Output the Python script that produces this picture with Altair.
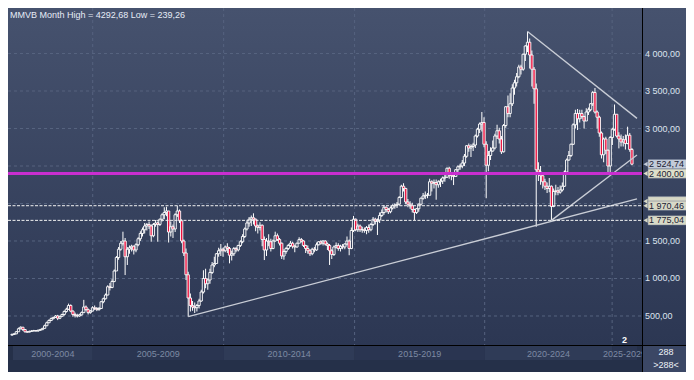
import altair as alt
import pandas as pd

TITLE = "MMVB Month High = 4292,68 Low = 239,26"
FIRST_OPEN = 245.0  # open of the first monthly candle (Jan 2002)

# Monthly closes, Jan 2002 .. Oct 2025 (one row per year)
CLOSE = [
    255, 262, 290, 330, 350, 320, 290, 285, 295, 300, 305, 300,
    310, 318, 335, 370, 410, 440, 465, 480, 500, 470, 495, 520,
    560, 590, 640, 565, 520, 505, 500, 515, 545, 620, 585, 545,
    565, 610, 600, 585, 600, 690, 730, 780, 890, 880, 960, 1100,
    1280, 1390, 1470, 1500, 1290, 1390, 1410, 1430, 1380, 1450, 1530, 1600,
    1650, 1700, 1720, 1700, 1570, 1720, 1740, 1720, 1790, 1850, 1880, 1900,
    1620, 1690, 1660, 1850, 1900, 1770, 1500, 1340, 1050, 740, 640, 620,
    610, 640, 700, 820, 1000, 930, 980, 1080, 1180, 1200, 1330, 1370,
    1390, 1370, 1420, 1400, 1310, 1330, 1400, 1380, 1440, 1490, 1560, 1660,
    1740, 1790, 1810, 1790, 1700, 1680, 1710, 1520, 1380, 1500, 1490, 1400,
    1500, 1570, 1520, 1470, 1300, 1360, 1400, 1440, 1470, 1430, 1420, 1470,
    1520, 1500, 1440, 1400, 1370, 1330, 1390, 1380, 1450, 1490, 1470, 1500,
    1460, 1440, 1370, 1320, 1420, 1440, 1400, 1430, 1420, 1460, 1500, 1400,
    1640, 1790, 1650, 1700, 1650, 1650, 1640, 1680, 1650, 1720, 1790, 1760,
    1780, 1840, 1880, 1950, 1920, 1890, 1940, 1970, 1980, 1990, 2080, 2230,
    2200, 2020, 1990, 1970, 1920, 1880, 1930, 1990, 2070, 2100, 2110, 2110,
    2290, 2270, 2280, 2250, 2290, 2300, 2340, 2350, 2470, 2380, 2370, 2360,
    2450, 2490, 2500, 2540, 2630, 2770, 2740, 2760, 2780, 2900, 2990, 3060,
    3080, 2790, 2510, 2640, 2700, 2740, 2900, 2970, 2860, 2690, 3040, 3290,
    3200, 3330, 3540, 3610, 3690, 3820, 3790, 3990, 4100, 4150, 3980, 3790,
    3530, 2450, 2420, 2370, 2290, 2230, 2200, 2230, 1960, 2160, 2170, 2150,
    2180, 2230, 2420, 2580, 2640, 2790, 3050, 3200, 3130, 3200, 3160, 3100,
    3220, 3250, 3330, 3480, 3220, 3150, 2940, 2650, 2860, 2710, 2500, 2880,
    2990, 3190, 2900, 2860, 2820, 2850, 2800, 2910, 2720, 2524.74,
]
HIGH = [
    265, 272, 300, 345, 362, 355, 325, 300, 305, 310, 315, 312,
    318, 328, 342, 385, 425, 455, 480, 490, 512, 515, 505, 530,
    575, 610, 665, 655, 575, 545, 530, 530, 560, 715, 640, 600,
    580, 630, 640, 620, 620, 700, 745, 800, 910, 940, 990, 1120,
    1300, 1420, 1500, 1624, 1540, 1420, 1440, 1450, 1440, 1470, 1550, 1630,
    1680, 1740, 1740, 1760, 1720, 1740, 1780, 1760, 1800, 1870, 1950, 1957,
    1900, 1760, 1720, 1870, 1970.46, 1920, 1790, 1520, 1400, 1090, 800, 700,
    680, 660, 730, 850, 1110, 1130, 1000, 1130, 1220, 1290, 1340, 1410,
    1460, 1410, 1440, 1470, 1420, 1370, 1420, 1420, 1450, 1510, 1590, 1680,
    1770, 1820, 1840, 1869, 1800, 1720, 1750, 1720, 1560, 1540, 1590, 1530,
    1520, 1624, 1600, 1540, 1480, 1390, 1420, 1460, 1500, 1490, 1450, 1480,
    1550, 1540, 1510, 1450, 1440, 1390, 1410, 1420, 1480, 1500, 1510, 1510,
    1510, 1480, 1460, 1390, 1440, 1480, 1470, 1450, 1460, 1470, 1560, 1520,
    1680, 1834, 1800, 1730, 1720, 1690, 1680, 1700, 1720, 1740, 1820, 1810,
    1800, 1880, 1920, 1980, 1960, 1940, 1960, 1990, 2000, 2020, 2100, 2250,
    2270, 2210, 2060, 2030, 2010, 1930, 1940, 2000, 2080, 2140, 2160, 2140,
    2330, 2310, 2320, 2320, 2310, 2330, 2360, 2380, 2480, 2490, 2420, 2410,
    2460, 2510, 2530, 2580, 2660, 2780, 2800, 2790, 2810, 2920, 3010, 3080,
    3220, 3150, 2830, 2700, 2750, 2840, 2930, 3050, 3010, 2900, 3060, 3300,
    3440, 3470, 3590, 3650, 3740, 3850, 3850, 4000, 4110, 4292.68, 4200, 4040,
    3820, 3600, 2550, 2500, 2400, 2330, 2280, 2340, 2240, 2200, 2250, 2220,
    2240, 2280, 2440, 2600, 2700, 2800, 3070, 3250, 3260, 3250, 3250, 3170,
    3270, 3280, 3340, 3500, 3540, 3240, 3170, 2960, 2880, 2890, 2720, 2900,
    3010, 3320, 3180, 2950, 2920, 2900, 2920, 3024, 2940, 2740,
]
LOW = [
    239.26, 248, 258, 288, 322, 300, 278, 276, 282, 290, 296, 292,
    292, 302, 312, 330, 365, 405, 432, 455, 475, 445, 458, 490,
    505, 545, 580, 550, 490, 480, 480, 490, 505, 540, 570, 520,
    530, 560, 580, 565, 570, 595, 670, 720, 775, 840, 870, 950,
    1100, 1250, 1370, 1440, 1046, 1180, 1330, 1360, 1320, 1350, 1430, 1500,
    1560, 1600, 1640, 1660, 1490, 1550, 1690, 1490, 1700, 1760, 1790, 1830,
    1480, 1560, 1540, 1620, 1820, 1740, 1470, 1300, 980, 491, 560, 570,
    540, 560, 600, 690, 800, 870, 850, 930, 1060, 1150, 1200, 1290,
    1300, 1290, 1350, 1340, 1202, 1240, 1300, 1350, 1360, 1420, 1470, 1540,
    1640, 1690, 1700, 1720, 1630, 1600, 1640, 1430, 1246, 1300, 1430, 1360,
    1390, 1490, 1500, 1440, 1260, 1250, 1330, 1380, 1420, 1400, 1350, 1410,
    1470, 1480, 1420, 1340, 1330, 1300, 1310, 1350, 1370, 1440, 1450, 1440,
    1440, 1380, 1180, 1260, 1300, 1400, 1370, 1360, 1390, 1390, 1440, 1310,
    1390, 1620, 1630, 1620, 1620, 1610, 1610, 1590, 1610, 1630, 1700, 1720,
    1580, 1740, 1820, 1850, 1880, 1860, 1870, 1920, 1930, 1940, 1970, 2070,
    2160, 1990, 1950, 1930, 1880, 1780, 1860, 1890, 1970, 2050, 2060, 2070,
    2120, 2160, 2200, 2050, 2210, 2220, 2260, 2290, 2340, 2330, 2310, 2246,
    2370, 2420, 2450, 2470, 2500, 2610, 2690, 2620, 2700, 2740, 2880, 2940,
    2960, 2750, 2070, 2430, 2580, 2690, 2720, 2860, 2800, 2660, 2680, 3010,
    3150, 3150, 3300, 3450, 3560, 3670, 3720, 3770, 3900, 4020, 3800, 3560,
    3330, 1690, 2300, 2250, 2200, 2180, 2140, 2150, 1775.04, 1950, 2110, 2110,
    2130, 2160, 2220, 2410, 2570, 2620, 2780, 3000, 2980, 3080, 3130, 3000,
    3130, 3180, 3230, 3300, 3200, 3000, 2890, 2600, 2550, 2660, 2390, 2380,
    2780, 2970, 2880, 2735, 2760, 2760, 2720, 2790, 2690, 2510,
]

Y_TICKS = [500, 1000, 1500, 3000, 3500, 4000]
Y_TICK_TEXT = ["500,00", "1 000,00", "1 500,00", "3 000,00", "3 500,00", "4 000,00"]
GRID_LEVELS = [500, 1000, 1500, 2000, 2500, 3000, 3500, 4000]

PERIOD_LABELS = ["2000-2004", "2005-2009", "2010-2014", "2015-2019", "2020-2024", "2025-2029"]
PERIOD_GRID = [37.1, 97.3, 157.5, 217.3, 275.9]   # month index of the 5-year separators

DASHED_LEVELS = [1970.46, 1775.04]
MAGENTA_LEVEL = 2400.0

# trend lines: (month index, value) -> (month index, value)
TREND_X1 = [81, 237, 248]
TREND_Y1 = [491, 4292.68, 1775.04]
TREND_X2 = [287.33, 287.33, 287.33]
TREND_Y2 = [2060.5, 3135, 2646]

# tag mostly covered by the 1 970,46 tag (only its upper edge shows)
HIDDEN_TAG_LEVELS = [2030.0]
HIDDEN_TAG_COLORS = ["#d6d7c5"]
TAGS = [("1 970,46", 1970.46, "#d8d9c7"), ("1 775,04", 1775.04, "#d8d9c7"),
        ("2 400,00", 2400.0, "#dedfc9"), ("2 524,74", 2524.74, "#c3cbd9")]

BAR_COUNT_TEXT = ["288", ">288<"]

# ---------------------------------------------------------------
FONT = "Liberation Sans"
W, H = 678, 364
PW, PH = 634, 337  # plot area inside the canvas

xs = alt.Scale(domain=[0.4525, 287.33], range=[0, PW], nice=False, zero=False)
ys = alt.Scale(domain=[113.3, 4606.7], range=[PH, 0], nice=False, zero=False)

opens = [FIRST_OPEN] + CLOSE[:-1]
rows = []
for i, (o, c) in enumerate(zip(opens, CLOSE)):
    rows.append(dict(i=i, open=o, close=c,
                     high=max(HIGH[i], o, c), low=min(LOW[i], o, c),
                     top=max(o, c), bot=min(o, c)))
candles = pd.DataFrame(rows)

one = pd.DataFrame({"a": [0]})

bg = alt.Chart(one).mark_rect(
    color=alt.Gradient(gradient="linear",
                       stops=[alt.GradientStop(color="#46526e", offset=0),
                              alt.GradientStop(color="#2c3753", offset=1)],
                       x1=0, x2=0, y1=0, y2=1)
).encode(x=alt.value(0), x2=alt.value(W), y=alt.value(0), y2=alt.value(PH))

bounds = [0.4525] + PERIOD_GRID + [287.33]
band_df = pd.DataFrame({
    "start": bounds[:-1], "end": bounds[1:], "label": PERIOD_LABELS,
    "mid": [(a + b) / 2 for a, b in zip(bounds[:-1], bounds[1:])],
    "col": ["#2f3b57" if k % 2 == 0 else "#2a3551" for k in range(len(PERIOD_LABELS))],
})
bands = alt.Chart(band_df).mark_rect().encode(
    x=alt.X("start:Q", scale=xs, axis=None), x2="end:Q",
    y=alt.value(338), y2=alt.value(352), color=alt.Color("col:N", scale=None))

hgrid = alt.Chart(pd.DataFrame({"v": GRID_LEVELS})).mark_rule(
    color="#56637f", strokeWidth=1, strokeDash=[3, 3]
).encode(y=alt.Y("v:Q", scale=ys, axis=None), x=alt.value(0), x2=alt.value(PW))

vgrid = alt.Chart(pd.DataFrame({"b": PERIOD_GRID})).mark_rule(
    color="#56637f", strokeWidth=1, strokeDash=[3, 3]
).encode(x=alt.X("b:Q", scale=xs, axis=None), y=alt.value(0), y2=alt.value(PH))

wick_up = alt.Chart(candles).mark_rule(color="white", strokeWidth=1).encode(
    x=alt.X("i:Q", scale=xs, axis=None), y=alt.Y("top:Q", scale=ys, axis=None), y2="high:Q")
wick_dn = alt.Chart(candles).mark_rule(color="white", strokeWidth=1).encode(
    x=alt.X("i:Q", scale=xs, axis=None), y=alt.Y("low:Q", scale=ys, axis=None), y2="bot:Q")
bodies = alt.Chart(candles).mark_bar(size=2.3, stroke="white", strokeWidth=0.9).encode(
    x=alt.X("i:Q", scale=xs, axis=None),
    y=alt.Y("open:Q", scale=ys, axis=None), y2="close:Q",
    fill=alt.condition("datum.close < datum.open", alt.value("#ec0c3a"), alt.value("transparent")))

trend_df = pd.DataFrame({"x1": TREND_X1, "y1": TREND_Y1, "x2": TREND_X2, "y2": TREND_Y2})
trends = alt.Chart(trend_df).mark_rule(color="#c9cdd6", strokeWidth=1.3).encode(
    x=alt.X("x1:Q", scale=xs, axis=None), x2="x2:Q",
    y=alt.Y("y1:Q", scale=ys, axis=None), y2="y2:Q")

dashed = alt.Chart(pd.DataFrame({"v": DASHED_LEVELS})).mark_rule(
    color="#f2f2f2", strokeWidth=1, strokeDash=[3, 1.5]
).encode(y=alt.Y("v:Q", scale=ys, axis=None), x=alt.value(0), x2=alt.value(PW))

magenta = alt.Chart(pd.DataFrame({"v": [MAGENTA_LEVEL]})).mark_rule(
    color="#c92ecf", strokeWidth=3
).encode(y=alt.Y("v:Q", scale=ys, axis=None), x=alt.value(0), x2=alt.value(PW))

title = alt.Chart(pd.DataFrame({"t": [TITLE]})).mark_text(
    align="left", baseline="middle", font=FONT, fontSize=9, color="#e6ecf6"
).encode(x=alt.value(2), y=alt.value(7), text="t:N")

year_text = alt.Chart(band_df).mark_text(
    align="center", baseline="middle", font=FONT, fontSize=9, color="#7d8aa3"
).encode(x=alt.X("mid:Q", scale=xs, axis=None), y=alt.value(345.5), text="label:N")

corner = alt.Chart(one).mark_rect(color="#3b4765").encode(
    x=alt.value(PW + 1), x2=alt.value(W), y=alt.value(PH + 1), y2=alt.value(H))
corner_text = alt.Chart(pd.DataFrame({"t": BAR_COUNT_TEXT, "yy": [344, 357]})).mark_text(
    align="center", baseline="middle", font=FONT, fontSize=9, color="#eef2f8"
).encode(x=alt.value(658), y=alt.Y("yy:Q", scale=None), text="t:N")

hline = alt.Chart(one).mark_rule(color="#000000", strokeWidth=1).encode(
    x=alt.value(0), x2=alt.value(W), y=alt.value(PH + 0.5))
vline = alt.Chart(one).mark_rule(color="#000000", strokeWidth=1).encode(
    x=alt.value(PW + 0.5), y=alt.value(0), y2=alt.value(H))

ticks = alt.Chart(pd.DataFrame({"v": Y_TICKS, "t": Y_TICK_TEXT})).mark_text(
    align="left", baseline="middle", font=FONT, fontSize=9, color="#dde4ef"
).encode(x=alt.value(637), y=alt.Y("v:Q", scale=ys, axis=None), text="t:N")


def tag_boxes(df):
    base = alt.Chart(df).transform_calculate(lo="datum.v - 62", hi="datum.v + 62")
    box = base.mark_rect(stroke="#6f7890", strokeWidth=0.5).encode(
        x=alt.value(640), x2=alt.value(686),
        y=alt.Y("lo:Q", scale=ys, axis=None), y2="hi:Q",
        color=alt.Color("col:N", scale=None))
    tip = alt.Chart(df).mark_point(shape="triangle-left", filled=True, size=24, opacity=1).encode(
        x=alt.value(637.5), y=alt.Y("v:Q", scale=ys, axis=None),
        color=alt.Color("col:N", scale=None))
    return [box, tip]


hidden_df = pd.DataFrame({"v": HIDDEN_TAG_LEVELS, "col": HIDDEN_TAG_COLORS})
tag_df = pd.DataFrame({"t": [t[0] for t in TAGS], "v": [t[1] for t in TAGS],
                       "col": [t[2] for t in TAGS]})
tag_text = alt.Chart(tag_df).mark_text(
    align="left", baseline="middle", font=FONT, fontSize=9, color="#1a2134"
).encode(x=alt.value(641), y=alt.Y("v:Q", scale=ys, axis=None), text="t:N")

two = alt.Chart(pd.DataFrame({"t": ["2"]})).mark_text(
    align="left", baseline="middle", font=FONT, fontSize=9, fontWeight="bold", color="#ffffff"
).encode(x=alt.value(614), y=alt.value(332), text="t:N")

layers = [bg, bands, hgrid, vgrid, wick_up, wick_dn, bodies, trends, dashed, magenta,
          title, year_text, corner, corner_text, hline, vline, ticks]
layers += tag_boxes(hidden_df)
layers += tag_boxes(tag_df)
layers += [tag_text, two]

chart = alt.layer(*layers).properties(
    width=W, height=H, padding=0,
    autosize=alt.AutoSizeParams(type="none"),
    background="#253049",
).configure_view(strokeWidth=0)

chart.save("out.html", embed_options={"renderer": "svg", "actions": False})
